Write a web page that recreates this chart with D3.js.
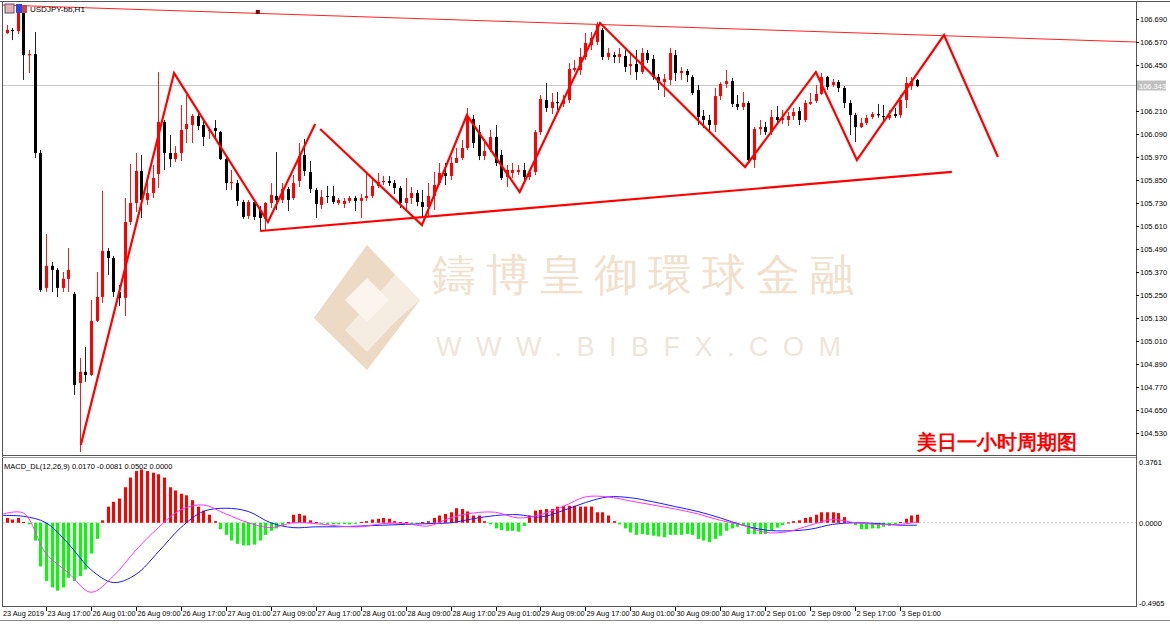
<!DOCTYPE html>
<html><head><meta charset="utf-8">
<script src="https://cdn.jsdelivr.net/npm/d3@7"></script>
<style>body{margin:0;background:#fff}svg{display:block}text{font-family:"Liberation Sans",Arial,sans-serif}</style>
</head><body><svg id="c" width="1170" height="624"></svg>
<script>
// USDJPY H1 candles, 23 Aug 2019 10:00 .. 3 Sep 2019 04:00
var opens = [
106.617,106.617,106.633,106.627,106.721,106.502,106.507,105.991,105.287,105.402,
105.381,105.287,105.334,105.256,104.791,104.849,104.833,105.115,105.240,105.480,
105.443,105.266,105.235,105.631,105.730,105.897,105.746,105.782,105.881,106.153,
105.991,105.959,105.991,106.116,106.137,106.184,106.137,106.106,106.121,106.100,
105.959,105.834,105.834,105.735,105.662,105.735,105.694,105.647,105.730,105.767,
105.746,105.803,105.756,105.845,105.981,105.892,105.798,105.720,105.767,105.767,
105.730,105.725,105.741,105.756,105.741,105.756,105.767,105.819,105.845,105.845,
105.834,105.808,105.730,105.756,105.782,105.735,105.709,105.767,105.834,105.887,
105.871,105.939,105.965,106.017,106.168,106.100,105.975,106.007,106.074,105.981,
105.866,105.887,105.892,105.902,105.866,105.892,106.100,106.267,106.226,106.257,
106.247,106.267,106.424,106.424,106.492,106.554,106.570,106.633,106.492,106.502,
106.492,106.497,106.445,106.455,106.413,106.513,106.481,106.387,106.361,106.372,
106.502,106.408,106.419,106.387,106.320,106.184,106.163,106.137,106.288,106.351,
106.366,106.247,106.231,106.252,105.954,106.116,106.126,106.100,106.179,106.163,
106.163,106.184,106.210,106.163,106.247,106.262,106.299,106.387,106.346,106.361,
106.330,106.252,106.189,106.126,106.147,106.179,106.194,106.184,106.174,106.194,
106.189,106.267,106.340,106.372];
var highs = [
106.633,106.659,106.643,106.747,106.758,106.528,106.622,106.007,105.568,105.422,
105.391,105.370,105.495,105.266,104.922,104.979,105.224,105.370,105.793,105.495,
105.454,105.302,105.756,105.934,105.991,105.981,105.840,105.928,106.413,106.163,
106.085,106.027,106.241,106.293,106.194,106.205,106.163,106.121,106.163,106.106,
105.981,105.902,105.850,105.746,105.746,105.746,105.714,105.735,105.834,105.996,
105.834,105.814,105.876,106.043,106.064,105.949,105.808,105.798,105.819,105.819,
105.756,105.756,105.767,105.767,105.777,105.887,105.861,105.887,105.871,105.871,
105.850,105.819,105.861,105.814,105.798,105.798,105.834,105.892,105.939,105.939,
105.970,106.017,106.059,106.226,106.189,106.137,106.059,106.111,106.137,106.007,
105.928,105.939,105.928,105.939,105.902,106.111,106.293,106.356,106.304,106.309,
106.293,106.460,106.476,106.539,106.617,106.622,106.674,106.643,106.539,106.518,
106.539,106.528,106.518,106.528,106.539,106.528,106.502,106.403,106.403,106.539,
106.528,106.439,106.429,106.398,106.346,106.215,106.189,106.330,106.361,106.424,
106.382,106.293,106.309,106.262,106.126,106.163,106.153,106.215,106.236,106.215,
106.205,106.226,106.231,106.267,106.304,106.346,106.408,106.393,106.377,106.372,
106.340,106.267,106.200,106.174,106.189,106.205,106.247,106.241,106.215,106.226,
106.293,106.387,106.387,106.377];
var lows = [
106.612,106.612,106.580,106.612,106.372,106.408,105.965,105.266,105.266,105.266,
105.240,105.266,105.266,104.729,104.431,104.797,104.828,105.109,105.209,105.355,
105.240,105.193,105.141,105.615,105.683,105.652,105.720,105.756,105.808,105.902,
105.918,105.944,105.949,106.043,106.043,106.111,106.027,106.064,106.059,105.954,
105.798,105.798,105.714,105.647,105.647,105.641,105.584,105.589,105.704,105.694,
105.730,105.688,105.746,105.814,105.871,105.782,105.652,105.699,105.730,105.725,
105.720,105.704,105.730,105.688,105.652,105.741,105.756,105.808,105.824,105.819,
105.777,105.704,105.694,105.725,105.714,105.657,105.657,105.694,105.824,105.824,
105.850,105.939,105.954,106.007,106.017,105.954,105.954,105.996,105.923,105.850,
105.814,105.861,105.876,105.850,105.850,105.876,106.085,106.205,106.194,106.215,
106.231,106.252,106.413,106.398,106.476,106.528,106.554,106.476,106.476,106.460,
106.460,106.413,106.398,106.372,106.403,106.460,106.372,106.320,106.283,106.346,
106.366,106.372,106.361,106.293,106.137,106.121,106.100,106.100,106.267,106.330,
106.231,106.215,106.215,105.939,105.913,106.085,106.085,106.085,106.137,106.142,
106.132,106.163,106.137,106.153,106.241,106.252,106.293,106.320,106.335,106.309,
106.226,106.085,106.048,106.121,106.137,106.168,106.174,106.158,106.163,106.174,
106.174,106.226,106.320,106.335];
var closes = [
106.627,106.633,106.627,106.726,106.502,106.507,105.991,105.276,105.402,105.381,
105.287,105.334,105.381,104.781,104.849,104.833,105.115,105.240,105.480,105.443,
105.266,105.235,105.631,105.730,105.897,105.746,105.782,105.861,106.153,105.991,
105.959,105.991,106.111,106.142,106.184,106.132,106.074,106.111,106.106,105.959,
105.834,105.840,105.741,105.657,105.735,105.657,105.652,105.730,105.772,105.746,
105.803,105.746,105.834,105.975,105.897,105.803,105.725,105.761,105.761,105.735,
105.746,105.741,105.756,105.741,105.756,105.767,105.819,105.840,105.845,105.834,
105.808,105.730,105.756,105.782,105.735,105.709,105.767,105.824,105.887,105.871,
105.939,105.965,106.017,106.184,106.043,105.975,106.001,106.074,105.939,105.861,
105.902,105.902,105.902,105.866,105.892,106.100,106.273,106.226,106.257,106.252,
106.267,106.429,106.434,106.492,106.565,106.591,106.659,106.492,106.513,106.492,
106.507,106.440,106.455,106.413,106.513,106.476,106.387,106.356,106.377,106.513,
106.408,106.419,106.398,106.304,106.179,106.163,106.137,106.288,106.351,106.366,
106.247,106.231,106.252,105.954,106.116,106.126,106.100,106.179,106.163,106.174,
106.184,106.205,106.163,106.252,106.257,106.299,106.387,106.335,106.361,106.330,
106.252,106.189,106.126,106.147,106.174,106.194,106.189,106.179,106.189,106.184,
106.267,106.356,106.366,106.340];

var macdHist = [
0.03,0.03,0.02,0.03,0.005,-0.01,-0.11,-0.27,-0.36,-0.40,
-0.42,-0.40,-0.34,-0.36,-0.33,-0.29,-0.19,-0.10,0.015,0.10,
0.13,0.15,0.22,0.28,0.32,0.33,0.32,0.31,0.30,0.28,
0.22,0.20,0.18,0.17,0.14,0.10,0.075,0.05,0.01,-0.04,
-0.075,-0.11,-0.13,-0.14,-0.14,-0.135,-0.11,-0.075,-0.05,-0.035,
-0.02,0.005,0.05,0.055,0.045,0.015,0.005,-0.005,-0.01,-0.01,
-0.01,-0.008,-0.01,-0.005,0.005,0.01,0.02,0.025,0.03,0.025,
0.01,0.005,0.005,-0.005,-0.005,0.005,0.01,0.03,0.045,0.055,
0.065,0.09,0.085,0.07,0.045,0.045,0.01,-0.01,-0.035,-0.045,
-0.05,-0.05,-0.055,-0.02,0.045,0.075,0.08,0.085,0.085,0.10,
0.105,0.105,0.105,0.10,0.10,0.10,0.065,0.065,0.045,0.01,
-0.01,-0.035,-0.06,-0.075,-0.07,-0.075,-0.08,-0.085,-0.09,-0.075,
-0.075,-0.075,-0.07,-0.075,-0.10,-0.11,-0.12,-0.10,-0.08,-0.05,
-0.035,-0.025,-0.015,-0.07,-0.07,-0.07,-0.07,-0.045,-0.03,-0.015,
0.002,0.01,0.015,0.03,0.035,0.05,0.065,0.065,0.065,0.06,
0.035,0.005,-0.015,-0.04,-0.04,-0.035,-0.035,-0.025,-0.02,-0.01,
0.005,0.025,0.045,0.05];
var lineIdx = [0,4,8,12,16,20,24,28,32,36,40,44,48,52,56,60,64,68,72,76,80,84,88,92,96,100,104,108,112,116,120,124,128,132,136,140,144,148,152,156,160,163];
var macdMain = [0.05,0.06,-0.19,-0.31,-0.43,-0.33,-0.17,-0.03,0.08,0.11,0.055,0,-0.03,0,-0.005,-0.02,-0.025,-0.005,-0.005,-0.02,0.03,0.06,0.065,0.03,0.05,0.10,0.16,0.16,0.135,0.11,0.085,0.055,0.015,-0.015,-0.06,-0.055,-0.015,0.02,0,-0.01,-0.01,0.005];
var macdSignal = [0.045,0.04,0,-0.13,-0.29,-0.37,-0.32,-0.18,-0.03,0.07,0.09,0.07,0,-0.03,-0.025,-0.025,-0.02,-0.015,-0.01,-0.005,0,0.025,0.045,0.05,0.035,0.075,0.125,0.16,0.155,0.13,0.10,0.07,0.03,-0.015,-0.045,-0.05,-0.04,-0.01,0,-0.005,-0.015,-0.015];

var priceTicks = [104.53,104.65,104.77,104.89,105.01,105.13,105.25,105.37,105.49,105.61,105.73,105.85,105.97,106.09,106.21,106.45,106.57,106.69];
var timeIdx = [8,16,24,32,40,48,56,64,72,80,88,96,104,112,120,128,136,144,152,160];
var timeLabels = ["23 Aug 17:00","26 Aug 01:00","26 Aug 09:00","26 Aug 17:00","27 Aug 01:00","27 Aug 09:00","27 Aug 17:00","28 Aug 01:00","28 Aug 09:00","28 Aug 17:00","29 Aug 01:00","29 Aug 09:00","29 Aug 17:00","30 Aug 01:00","30 Aug 09:00","30 Aug 17:00","2 Sep 01:00","2 Sep 09:00","2 Sep 17:00","3 Sep 01:00"];
var lastPrice = 106.343;

// hand drawn analysis lines, [bar index, price]
var topLine = [[0,106.763],[202,106.570]];
var supportLine = [[46.1,105.584],[169.2,105.892]];
var zigA = [[14.2,104.468],[30.8,106.408],[47.5,105.631],[55.9,106.142]];
var zigB = [[56.8,106.116],[74.9,105.615],[82.9,106.189],[92.3,105.787],[106.6,106.669],[132.4,105.918],[145.0,106.413],[152.3,105.954],[167.8,106.606],[177.4,105.970]];

var svg = d3.select("#c");
var x = d3.scaleLinear().domain([0,163]).range([1,917]);
var y = d3.scaleLinear().domain([104.53,106.69]).range([433,19]);
var ym = d3.scaleLinear().domain([-0.4965,0.3761]).range([603,462]);
var AX = 1136;

var main = svg.append("g");
main.append("defs").append("clipPath").attr("id","mc").append("rect").attr("x",3).attr("y",2).attr("width",AX-3).attr("height",454);
main.append("defs").append("clipPath").attr("id","dc").append("rect").attr("x",3).attr("y",459).attr("width",AX-3).attr("height",147);

// watermark
var wm = svg.append("g");
wm.append("polygon").attr("points","367,245 420,300 367,370 314,318").attr("fill","#f5ece2");
wm.append("polygon").attr("points","367,245 395,275 345,330 367,352 395,322 420,300 367,370 314,318").attr("fill","#ecdac4");
wm.append("polygon").attr("points","345,300 367,278 389,300 367,322").attr("fill","#fbf5ee");
wm.append("text").attr("x",432).attr("y",290).attr("font-size",44).attr("fill","#f1e0cc")
  .attr("font-family","'Noto Sans CJK TC','Noto Sans CJK SC'").attr("letter-spacing",10).text("鑄博皇御環球金融");
wm.append("text").attr("x",436).attr("y",356).attr("font-size",27).attr("fill","#efe5da")
  .attr("letter-spacing",14.5).text("WWW.BIBFX.COM");

// current price line
main.append("line").attr("x1",3).attr("x2",AX).attr("y1",y(lastPrice)).attr("y2",y(lastPrice)).attr("stroke","#c8c8c8");

// candles
var idx = d3.range(opens.length);
var cg = main.append("g").attr("clip-path","url(#mc)");
cg.selectAll(".w").data(idx).join("line")
  .attr("x1",function(i){return Math.round(x(i))+0.5;}).attr("x2",function(i){return Math.round(x(i))+0.5;})
  .attr("y1",function(i){return y(highs[i]);}).attr("y2",function(i){return y(lows[i]);})
  .attr("stroke",function(i){return closes[i]>=opens[i]?"#ff1a1a":"#222";});
cg.selectAll(".b").data(idx).join("rect")
  .attr("x",function(i){return Math.round(x(i))-1;}).attr("width",3)
  .attr("y",function(i){return y(Math.max(opens[i],closes[i]));})
  .attr("height",function(i){return Math.max(1.2,Math.abs(y(opens[i])-y(closes[i])));})
  .attr("fill",function(i){return closes[i]>=opens[i]?"#ff0000":"#000";});

// analysis lines
var ln = d3.line().x(function(d){return x(d[0]);}).y(function(d){return y(d[1]);});
cg.append("path").attr("d",ln(topLine)).attr("stroke","#ff2020").attr("stroke-width",1).attr("fill","none");
cg.append("rect").attr("x",x(45.7)-2).attr("y",y(106.727)-2).attr("width",4).attr("height",4).attr("fill","#800");
[supportLine,zigA,zigB].forEach(function(p){
  cg.append("path").attr("d",ln(p)).attr("stroke","#ff0000").attr("stroke-width",2.2).attr("fill","none");
});

// MACD pane
var dg = svg.append("g").attr("clip-path","url(#dc)");
dg.append("line").attr("x1",3).attr("x2",AX).attr("y1",ym(0)).attr("y2",ym(0)).attr("stroke","#c8c8c8").attr("stroke-dasharray","2,2");
dg.selectAll(".h").data(idx).join("rect")
  .attr("x",function(i){return Math.round(x(i))-1;}).attr("width",3)
  .attr("y",function(i){return Math.min(ym(0),ym(macdHist[i]));})
  .attr("height",function(i){return Math.max(1,Math.abs(ym(macdHist[i])-ym(0)));})
  .attr("fill",function(i){return macdHist[i]>=0?"#ff0000":"#00ff00";});
var ml = d3.line().curve(d3.curveCatmullRom).x(function(d,k){return x(lineIdx[k]);}).y(function(d){return ym(d);});
dg.append("path").attr("d",ml(macdSignal)).attr("stroke","#1a1aff").attr("fill","none");
dg.append("path").attr("d",ml(macdMain)).attr("stroke","#ff33ff").attr("fill","none");

// frames
var fr = svg.append("g").attr("stroke","#555").attr("fill","none");
fr.append("line").attr("x1",0).attr("x2",1170).attr("y1",1.5).attr("y2",1.5);
fr.append("line").attr("x1",2.5).attr("x2",2.5).attr("y1",1).attr("y2",607);
fr.append("line").attr("x1",AX+0.5).attr("x2",AX+0.5).attr("y1",1).attr("y2",607);
fr.append("line").attr("x1",2).attr("x2",AX).attr("y1",455.5).attr("y2",455.5);
fr.append("line").attr("x1",2).attr("x2",AX).attr("y1",457.5).attr("y2",457.5).attr("stroke","#999");
fr.append("line").attr("x1",2).attr("x2",AX+1).attr("y1",606.5).attr("y2",606.5);
fr.append("line").attr("x1",0).attr("x2",1170).attr("y1",620.5).attr("y2",620.5).attr("stroke","#888");

// price axis
var ax = svg.append("g").attr("font-size",7.5).attr("fill","#000");
priceTicks.forEach(function(p){
  ax.append("line").attr("x1",AX).attr("x2",AX+3).attr("y1",Math.round(y(p))+0.5).attr("y2",Math.round(y(p))+0.5).attr("stroke","#000");
  ax.append("text").attr("x",AX+4).attr("y",y(p)+3).text(p.toFixed(3));
});
ax.append("rect").attr("x",AX+1).attr("y",y(lastPrice)-5).attr("width",29).attr("height",10).attr("fill","#c0c0c0");
ax.append("text").attr("x",AX+3).attr("y",y(lastPrice)+3).attr("fill","#fff").text(lastPrice.toFixed(3));
[[0.3761,"0.3761"],[0,"0.0000"],[-0.4965,"-0.4965"]].forEach(function(d){
  ax.append("text").attr("x",AX+3).attr("y",ym(d[0])+3).text(d[1]);
});

// time axis
var tx = svg.append("g").attr("font-size",7.3);
tx.append("text").attr("x",3).attr("y",616).text("23 Aug 2019");
timeIdx.forEach(function(i,k){
  var px = Math.round(x(i))+0.5;
  tx.append("line").attr("x1",px).attr("x2",px).attr("y1",607).attr("y2",611).attr("stroke","#000");
  tx.append("text").attr("x",px+1).attr("y",616).text(timeLabels[k]);
});

// titles
svg.append("rect").attr("x",5).attr("y",4).attr("width",9).attr("height",9).attr("fill","#e8b0b0").attr("stroke","#557");
svg.append("rect").attr("x",16).attr("y",4).attr("width",6).attr("height",9).attr("fill","#3344dd");
svg.append("rect").attr("x",22).attr("y",5).attr("width",5).attr("height",8).attr("fill","#cc4444");
svg.append("text").attr("x",30).attr("y",12).attr("font-size",8).text("USDJPY-bb,H1");
svg.append("text").attr("x",4).attr("y",469).attr("font-size",7.5).text("MACD_DL(12,26,9) 0.0170 -0.0081 0.0502 0.0000");
svg.append("text").attr("x",917).attr("y",449).attr("font-size",20).attr("font-weight","bold").attr("fill","#ff0000")
  .attr("font-family","'Noto Sans CJK SC'").text("美日一小时周期图");
</script></body></html>
